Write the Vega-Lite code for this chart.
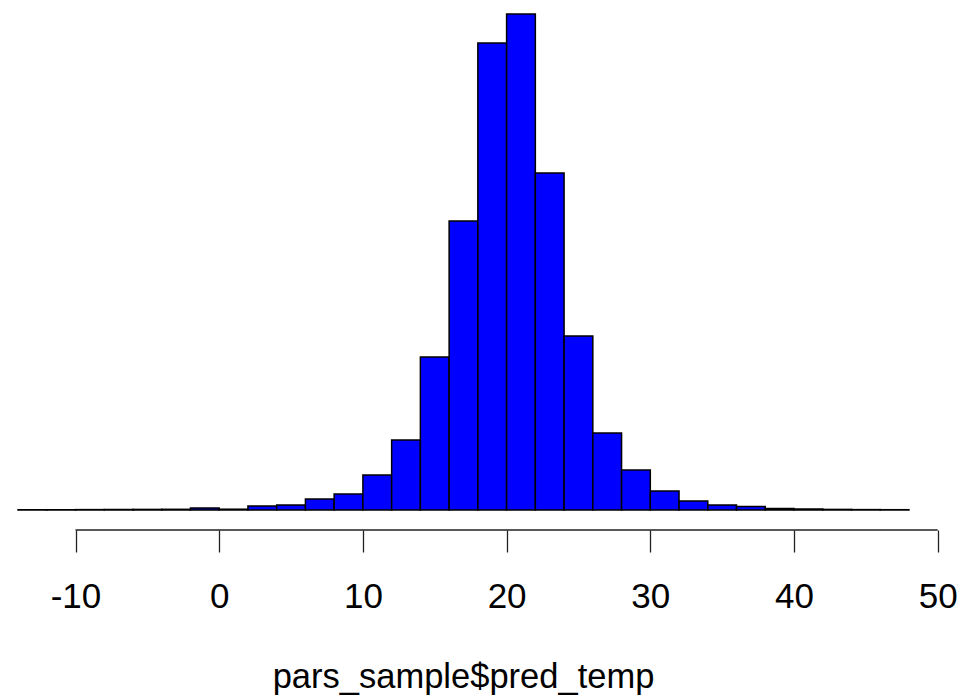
{
  "$schema": "https://vega.github.io/schema/vega-lite/v6.json",
  "width": 964,
  "height": 530,
  "padding": {"left": 0, "top": 0, "right": 0, "bottom": 168},
  "autosize": {"type": "none"},
  "background": "white",
  "config": {"view": {"stroke": null}, "font": "Liberation Sans"},
  "layer": [
    {
      "data": {"values": [
        {"bin_start": -14, "bin_end": -12, "count": 0.3},
        {"bin_start": -12, "bin_end": -10, "count": 0.2},
        {"bin_start": -10, "bin_end": -8, "count": 0.4},
        {"bin_start": -8, "bin_end": -6, "count": 0.5},
        {"bin_start": -6, "bin_end": -4, "count": 0.6},
        {"bin_start": -4, "bin_end": -2, "count": 0.7},
        {"bin_start": -2, "bin_end": 0, "count": 2},
        {"bin_start": 0, "bin_end": 2, "count": 0.8},
        {"bin_start": 2, "bin_end": 4, "count": 4},
        {"bin_start": 4, "bin_end": 6, "count": 5},
        {"bin_start": 6, "bin_end": 8, "count": 11},
        {"bin_start": 8, "bin_end": 10, "count": 16},
        {"bin_start": 10, "bin_end": 12, "count": 35},
        {"bin_start": 12, "bin_end": 14, "count": 70},
        {"bin_start": 14, "bin_end": 16, "count": 153},
        {"bin_start": 16, "bin_end": 18, "count": 289},
        {"bin_start": 18, "bin_end": 20, "count": 467},
        {"bin_start": 20, "bin_end": 22, "count": 496},
        {"bin_start": 22, "bin_end": 24, "count": 337},
        {"bin_start": 24, "bin_end": 26, "count": 174},
        {"bin_start": 26, "bin_end": 28, "count": 77},
        {"bin_start": 28, "bin_end": 30, "count": 40},
        {"bin_start": 30, "bin_end": 32, "count": 19},
        {"bin_start": 32, "bin_end": 34, "count": 9},
        {"bin_start": 34, "bin_end": 36, "count": 5},
        {"bin_start": 36, "bin_end": 38, "count": 3.5},
        {"bin_start": 38, "bin_end": 40, "count": 1.5},
        {"bin_start": 40, "bin_end": 42, "count": 1},
        {"bin_start": 42, "bin_end": 44, "count": 0.6},
        {"bin_start": 44, "bin_end": 46, "count": 0.4},
        {"bin_start": 46, "bin_end": 48, "count": 0.3}
      ]},
      "mark": {"type": "rect", "fill": "#0000FF", "stroke": "black", "strokeWidth": 1.5},
      "encoding": {
        "x": {
          "field": "bin_start", "type": "quantitative",
          "scale": {"domain": [-15.254, 51.83], "nice": false, "zero": false},
          "axis": {
            "values": [-10, 0, 10, 20, 30, 40, 50],
            "labelExpr": "toString(datum.value)",
            "domain": false,
            "grid": false,
            "tickSize": 22,
            "tickColor": "#222222",
            "tickWidth": 1.3,
            "labelFontSize": 35,
            "labelColor": "black",
            "labelBaseline": "alphabetic",
            "labelPadding": 55,
            "labelFont": "Liberation Sans",
            "labelOverlap": false,
            "title": "pars_sample$pred_temp",
            "titleFont": "Liberation Sans",
            "titleFontSize": 34.5,
            "titleFontWeight": "normal",
            "titleColor": "black",
            "titleBaseline": "alphabetic",
            "titleAlign": "center",
            "titleX": 463,
            "titleY": 157
          }
        },
        "x2": {"field": "bin_end"},
        "y": {
          "field": "count", "type": "quantitative",
          "scale": {"domain": [-20, 510], "nice": false, "zero": false},
          "axis": null
        },
        "y2": {"datum": 0}
      }
    },
    {
      "data": {"values": [{"start": -10, "end": 50, "level": -20}]},
      "mark": {"type": "rule", "color": "#222222", "strokeWidth": 1.3},
      "encoding": {
        "x": {"field": "start", "type": "quantitative"},
        "x2": {"field": "end"},
        "y": {"field": "level", "type": "quantitative"}
      }
    }
  ]
}
